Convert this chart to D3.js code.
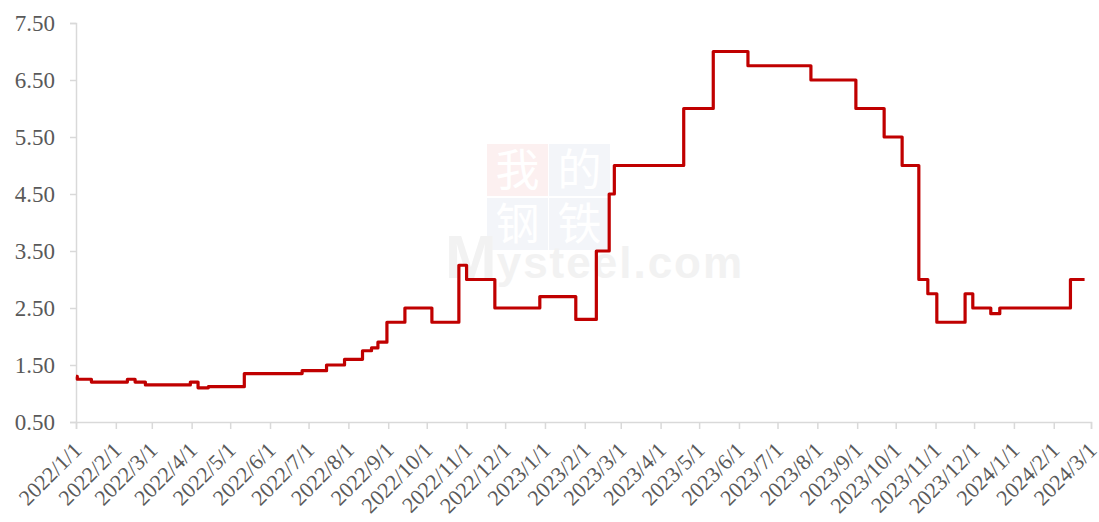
<!DOCTYPE html>
<html><head><meta charset="utf-8">
<script src="https://cdn.jsdelivr.net/npm/d3@7"></script>
<style>html,body{margin:0;padding:0;background:#fff;}svg{display:block;}</style>
</head><body>
<svg id="chart" width="1099" height="522"></svg>
<script>
// ---- data ----
const changeDates = ["2022/1/1","2022/1/2","2022/1/13","2022/2/10","2022/2/16","2022/2/24","2022/3/31","2022/4/6","2022/4/14","2022/5/12","2022/6/26","2022/7/15","2022/7/29","2022/8/12","2022/8/19","2022/8/24","2022/8/31","2022/9/14","2022/10/5","2022/10/26","2022/11/1","2022/11/23","2022/12/28","2023/1/25","2023/2/10","2023/2/20","2023/2/24","2023/4/19","2023/5/12","2023/6/8","2023/7/27","2023/8/31","2023/9/22","2023/10/6","2023/10/19","2023/10/26","2023/11/2","2023/11/24","2023/11/30","2023/12/14","2023/12/21","2024/2/14","2024/2/25"];
const values = [1.30,1.25,1.20,1.25,1.20,1.15,1.20,1.10,1.12,1.35,1.40,1.50,1.60,1.75,1.80,1.90,2.25,2.50,2.25,3.25,3.00,2.50,2.70,2.30,3.50,4.50,5.00,6.00,7.00,6.75,6.50,6.00,5.50,5.00,3.00,2.75,2.25,2.75,2.50,2.40,2.50,3.00,3.00];
const xTickLabels = ["2022/1/1","2022/2/1","2022/3/1","2022/4/1","2022/5/1","2022/6/1","2022/7/1","2022/8/1","2022/9/1","2022/10/1","2022/11/1","2022/12/1","2023/1/1","2023/2/1","2023/3/1","2023/4/1","2023/5/1","2023/6/1","2023/7/1","2023/8/1","2023/9/1","2023/10/1","2023/11/1","2023/12/1","2024/1/1","2024/2/1","2024/3/1"];
const yTicks = [0.5,1.5,2.5,3.5,4.5,5.5,6.5,7.5];

(function(){
const parse = d3.timeParse("%Y/%m/%d");
const data = changeDates.map((d,i)=>({date:parse(d), v:values[i]}));
const tickDates = xTickLabels.map(parse);

const svg = d3.select("#chart");
const mL = 76, mR = 1091, mT = 23, mB = 422;
const x = d3.scaleTime().domain([tickDates[0], tickDates[tickDates.length-1]]).range([mL,mR]);
const y = d3.scaleLinear().domain([0.5,7.5]).range([mB,mT]);

// watermark
const wm = svg.append("g").attr("class","watermark");
const sq = [["我",487,144,"#fcf0f0"],["的",549,144,"#f3f5f9"],["钢",487,198,"#f3f5f9"],["铁",549,198,"#f3f5f9"]];
sq.forEach(s=>{
  wm.append("rect").attr("x",s[1]).attr("y",s[2]).attr("width",61).attr("height",52).attr("fill",s[3]);
  wm.append("text").attr("x",s[1]+30.5).attr("y",s[2]+26).attr("dy","0.36em")
    .attr("text-anchor","middle").attr("font-family","'Noto Sans CJK SC'").attr("font-size",44)
    .attr("fill","#ffffff").text(s[0]);
});
const mt = wm.append("text").attr("x",445).attr("y",278).attr("font-family","'Liberation Sans',Arial,sans-serif")
  .attr("font-weight","bold").attr("fill","#f2f2f2");
mt.append("tspan").attr("font-size",62).text("M");
mt.append("tspan").attr("font-size",44).attr("letter-spacing",2).text("ysteel.com");

// axes
const axisColor = "#d9d9d9", textColor = "#595959";
const yAxis = svg.append("g").attr("transform",`translate(${mL},0)`)
  .call(d3.axisLeft(y).tickValues(yTicks).tickFormat(d3.format(".2f")).tickSize(6).tickPadding(15));
const xAxis = svg.append("g").attr("transform",`translate(0,${mB})`)
  .call(d3.axisBottom(x).tickValues(tickDates).tickFormat((d,i)=>xTickLabels[i]).tickSize(7).tickPadding(6));
[xAxis,yAxis].forEach(g=>{
  g.select(".domain").attr("stroke",axisColor).attr("stroke-width",1.5);
  g.selectAll(".tick line").attr("stroke",axisColor).attr("stroke-width",1.5);
  g.selectAll("text").attr("fill",textColor).attr("font-family","'Liberation Serif','Times New Roman',serif");
});
yAxis.selectAll("text").attr("font-size",23).attr("dy","0.34em");
xAxis.selectAll("text").attr("font-size",22).attr("text-anchor","end")
  .attr("dy","0.35em").attr("transform","translate(1,24) rotate(-45)").attr("y",0).attr("x",0);

// line
const line = d3.line().x(d=>x(d.date)).y(d=>y(d.v)).curve(d3.curveStepAfter);
svg.append("path").datum(data).attr("d",line).attr("fill","none")
  .attr("stroke","#c00000").attr("stroke-width",3.2).attr("stroke-linejoin","round");
})();
</script>
</body></html>
